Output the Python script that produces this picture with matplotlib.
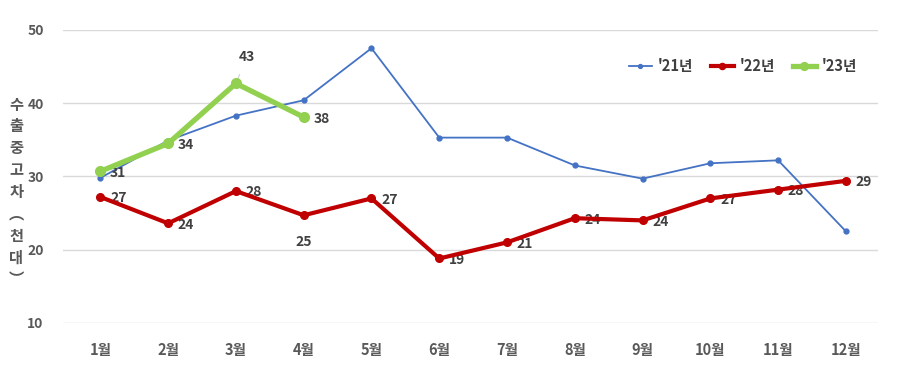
import matplotlib
matplotlib.use("Agg")
import matplotlib.pyplot as plt

plt.rcParams['font.family'] = ['Noto Sans CJK KR', 'DejaVu Sans']

# data
months = ['1월', '2월', '3월', '4월', '5월', '6월', '7월', '8월', '9월', '10월', '11월', '12월']
y21 = [29.8, 34.9, 38.3, 40.4, 47.5, 35.3, 35.3, 31.5, 29.7, 31.8, 32.2, 22.5]
y22 = [27.2, 23.6, 28.0, 24.7, 27.0, 18.8, 21.0, 24.3, 24.0, 27.0, 28.2, 29.4]
y23 = [30.7, 34.5, 42.7, 38.1]
lab22 = ['27', '24', '28', '25', '27', '19', '21', '24', '24', '27', '28', '29']
lab23 = ['31', '34', '43', '38']

c21 = '#4472C4'
c22 = '#C00000'
c23 = '#92D050'
txt = '#404040'

fig = plt.figure(figsize=(9.01, 3.84), dpi=100)
ax = fig.add_axes([0.070, 0.159, 0.905, 0.763])

x = list(range(len(months)))
ax.plot(x, y21, color=c21, lw=1.3, marker='o', ms=3.5, label="'21년", zorder=3)
ax.plot(x, y22, color=c22, lw=3.0, marker='o', ms=5.5, label="'22년", zorder=4)
ax.plot(x[:len(y23)], y23, color=c23, lw=3.8, marker='o', ms=7, label="'23년", zorder=5)

# labels for '22
for i, (v, s) in enumerate(zip(y22, lab22)):
    if i == 3:
        ax.annotate(s, (i, v), xytext=(0, -19), textcoords='offset points',
                    ha='center', va='center', fontsize=10, color=txt, fontweight='bold')
    else:
        ax.annotate(s, (i, v), xytext=(7, -1), textcoords='offset points',
                    ha='left', va='center', fontsize=10, color=txt, fontweight='bold')

# labels for '23
for i, (v, s) in enumerate(zip(y23, lab23)):
    if i == 2:
        ax.annotate(s, (i, v), xytext=(8, 19), textcoords='offset points',
                    ha='center', va='center', fontsize=10, color=txt, fontweight='bold',
                    arrowprops=dict(arrowstyle='-', color='#D0D0D0', lw=0.8,
                                    shrinkA=6, shrinkB=2))
    else:
        ax.annotate(s, (i, v), xytext=(7, -1), textcoords='offset points',
                    ha='left', va='center', fontsize=10, color=txt, fontweight='bold')

ax.set_ylim(10, 50)
ax.set_xlim(-0.55, 11.48)
ax.set_yticks([10, 20, 30, 40, 50])
ax.set_xticks(x)
ax.set_xticklabels(months)
ax.grid(axis='y', color='#D9D9D9', lw=1)
ax.set_axisbelow(True)
for sp in ax.spines.values():
    sp.set_visible(False)
ax.tick_params(length=0, colors='#595959', labelsize=10.5)
ax.tick_params(axis='y', pad=14, labelsize=10)
ax.tick_params(axis='x', pad=14)
for t in ax.get_xticklabels() + ax.get_yticklabels():
    t.set_fontweight('bold')

fig.text(0.018, 0.50, '수\n출\n중\n고\n차\n︵\n천\n대\n︶', ha='center', va='center',
         fontsize=11, color='#595959', fontweight='bold', linespacing=1.45)

leg = ax.legend(loc='upper right', bbox_to_anchor=(0.99, 0.95), ncol=3, frameon=False,
                fontsize=10.5, handlelength=1.6, handletextpad=0.4, columnspacing=1.2,
                markerscale=0.8)
for t in leg.get_texts():
    t.set_color(txt)
    t.set_fontweight('bold')

fig.savefig('out.png', dpi=100)
